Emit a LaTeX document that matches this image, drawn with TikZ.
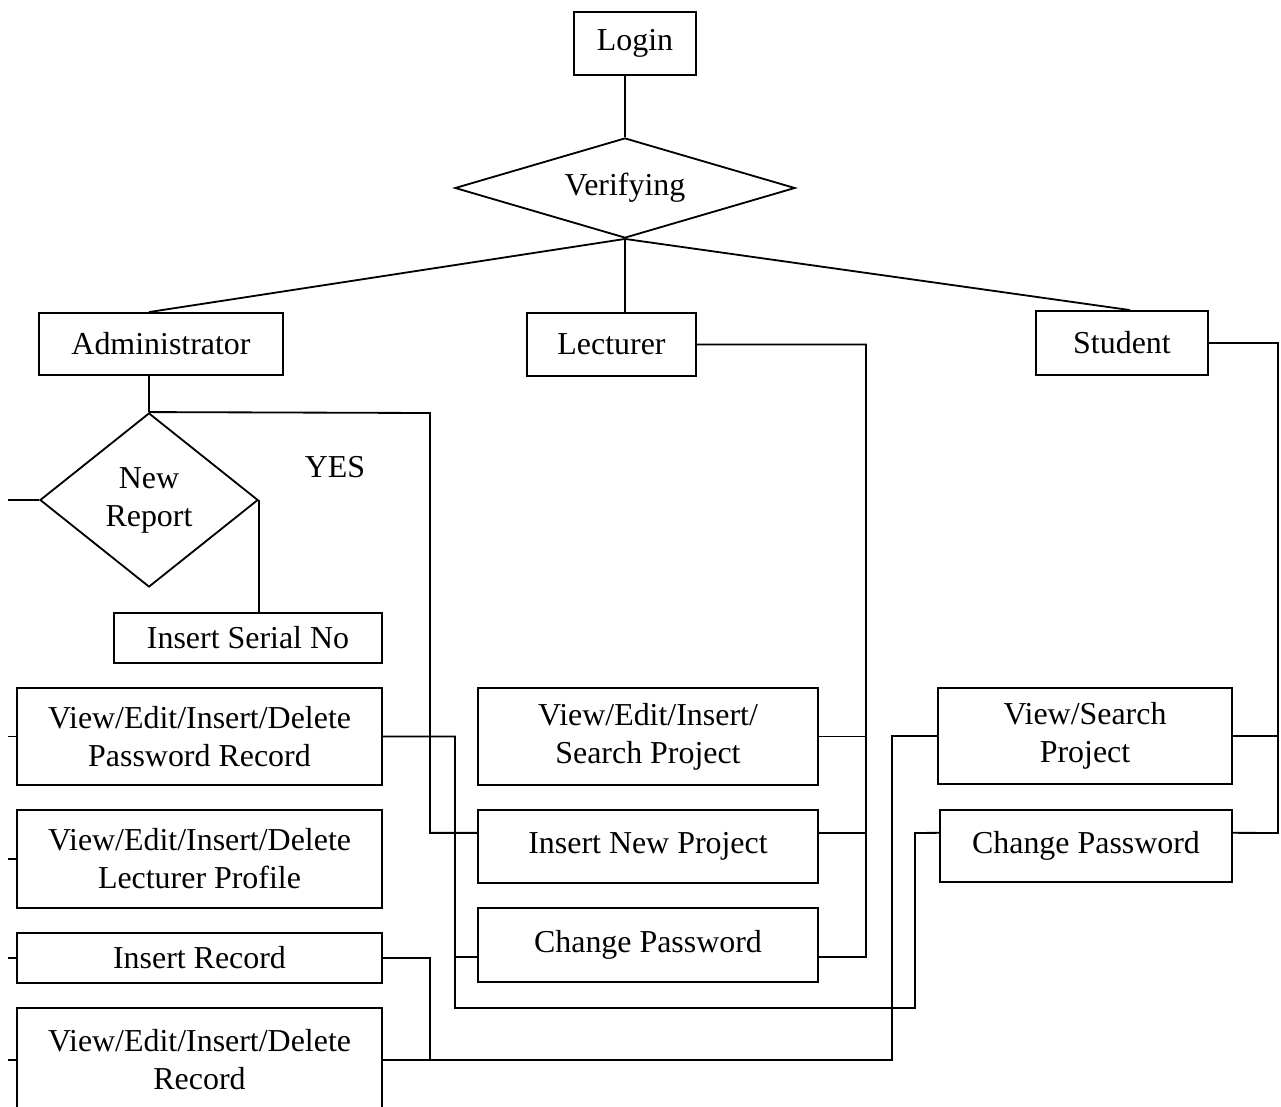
\documentclass[tikz,border=0pt]{standalone}
\usepackage{fontspec}
\setmainfont{Liberation Serif}
\usetikzlibrary{shapes}

\begin{document}
\begin{tikzpicture}[x=0.025cm,y=-0.025cm,line width=1.3pt,
    font=\fontsize{22.7}{27}\selectfont]
  \useasboundingbox (0,0) rectangle (1281,1106);
  \begin{scope}[every node/.style={draw,rectangle,align=center,inner sep=0pt}]
    \node[minimum width=3.05cm,minimum height=1.575cm] (login) at (635,43.5) {Login};
    \node[minimum width=6.1cm,minimum height=1.55cm] (admin) at (161,344) {Administrator};
    \node[minimum width=4.225cm,minimum height=1.575cm] (lect) at (611.5,344.5) {Lecturer};
    \node[minimum width=4.3cm,minimum height=1.6cm] (stud) at (1122,343) {Student};
    \node[minimum width=6.7cm,minimum height=1.25cm] (serial) at (248,638) {Insert Serial No};
    \node[minimum width=9.125cm,minimum height=2.425cm] (pwrec) at (199.5,736.5) {View/Edit/Insert/Delete\\Password Record};
    \node[minimum width=9.125cm,minimum height=2.45cm] (lecprof) at (199.5,859) {View/Edit/Insert/Delete\\Lecturer Profile};
    \node[minimum width=9.125cm,minimum height=1.25cm] (insrec) at (199.5,958) {Insert Record};
    \node[minimum width=9.125cm,minimum height=2.6cm] (record) at (199.5,1060) {View/Edit/Insert/Delete\\Record};
    \node[minimum width=8.5cm,minimum height=2.425cm] (veisp) at (648,736.5) {View/Edit/Insert/\\Search Project};
    \node[minimum width=8.5cm,minimum height=1.825cm] (inp) at (648,846.5) {Insert New Project};
    \node[minimum width=8.5cm,minimum height=1.85cm] (lcpw) at (648,945) {Change Password};
    \node[minimum width=7.35cm,minimum height=2.4cm] (vsp) at (1085,736) {View/Search\\Project};
    \node[minimum width=7.3cm,minimum height=1.8cm] (scpw) at (1086,846) {Change Password};
  \end{scope}
  \begin{scope}[every node/.style={draw,diamond,align=center,inner sep=0pt}]
    \node[aspect=3.4,minimum width=8.5cm,minimum height=2.5cm] (verify) at (625,188) {Verifying};
    \node[aspect=1.25,minimum width=5.45cm,minimum height=4.35cm] (newrep) at (149,500) {New\\Report};
  \end{scope}
  \node (yes) at (335,467) {YES};
  % free ends at the left edge
  \coordinate (nrl) at (8,500);
  \coordinate (pwl) at (8,736.5);
  \coordinate (lpl) at (8,859);
  \coordinate (irl) at (8,958);
  \coordinate (rcl) at (8,1060);
  \begin{scope}[every edge/.style={draw=black}]
    \path (verify.north |- login.south) edge (verify.north);
    \path (verify.south) edge (newrep.north |- admin.north);
    \path (verify.south) edge (verify.south |- lect.north);
    \path (verify.south) edge ([xshift=0.2cm]stud.north);
    \path (newrep.north |- admin.south) edge (newrep.north);
    \path (newrep.east) edge (newrep.east |- serial.north);
    \path (newrep.west) edge (nrl);
    \path (pwrec.west) edge (pwl);
    \path (lecprof.west) edge (lpl);
    \path (insrec.west) edge (irl);
    \path (record.west) edge (rcl);
  \end{scope}
  % administrator
  \draw (newrep.north) -- (430,413) |- ([yshift=0.34cm]inp.west);
  \draw (pwrec.east) -- (455,736.5) -- (455,1008) -| (915,833) -- ([yshift=0.33cm]scpw.west);
  \draw ([yshift=-0.3cm]lcpw.west) -- (455,957);
  \draw (insrec.east) -| (430,1060);
  \draw (record.east) -- (892,1060) |- (vsp.west);
  % lecturer
  \draw (lect.east) -| (866,957) -- ([yshift=-0.3cm]lcpw.east);
  \draw (veisp.east) -- (866,736.5);
  \draw ([yshift=0.34cm]inp.east) -- (866,833);
  % student
  \draw (stud.east) -| (1278,833) -- ([yshift=0.33cm]scpw.east);
  \draw (vsp.east) -- (1278,736);
\end{tikzpicture}
\end{document}
